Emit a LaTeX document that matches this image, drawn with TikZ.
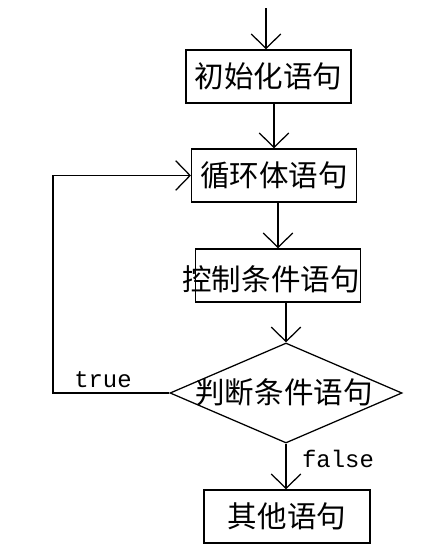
\documentclass[tikz,border=0pt]{standalone}
\usepackage{fontspec}
\newfontfamily\cjk{Noto Sans CJK SC}
\newfontfamily\mono{Liberation Mono}
\usepackage{tikz}
\usetikzlibrary{shapes.geometric,arrows.meta}

\begin{document}
\begin{tikzpicture}[x=0.025cm,y=-0.025cm,line width=0.9pt,
  every node/.style={font=\cjk\fontsize{21}{25}\selectfont},
  box/.style={draw,minimum width=4.12cm,minimum height=1.33cm,inner sep=0pt},
  arr/.style={-{Straight Barb[length=3.6mm,width=7.4mm]}},
  lbl/.style={font=\mono\fontsize{17}{20}\selectfont}]
 \useasboundingbox (0,0) rectangle (446,559);
 % boxes
 \node[box] (init) at (268.5,76.5) {初始化语句};
 \node[box] (loop) at (274,175.5) {循环体语句};
 \node[box] (ctrl) at (278,275.5) {};
 \node (ctrltxt) at (271,279) {控制条件语句};
 \node[draw,diamond,inner sep=0pt,minimum width=5.8cm,minimum height=2.5cm] (judge) at (286,393) {};
 \node (judgetxt) at (284,392) {判断条件语句};
 \node[box,minimum width=4.15cm] (other) at (287,516.5) {其他语句};
 \node[lbl] (true) at (103,380) {true};
 \node[lbl] (false) at (338,459) {false};
 \coordinate (start) at (266,8);
 \coordinate (corner) at (53,393);
 % arrows
 \draw[arr] (start) -- (start |- init.north);
 \draw[arr] (loop.north |- init.south) -- (loop.north);
 \draw[arr] (ctrl.north |- loop.south) -- (ctrl.north);
 \draw[arr] (judge.north |- ctrl.south) -- (judge.north);
 \draw[arr] (judge.south) -- (judge.south |- other.north);
 \draw[arr] (judge.west) -- (corner) |- (loop.west);
\end{tikzpicture}
\end{document}
